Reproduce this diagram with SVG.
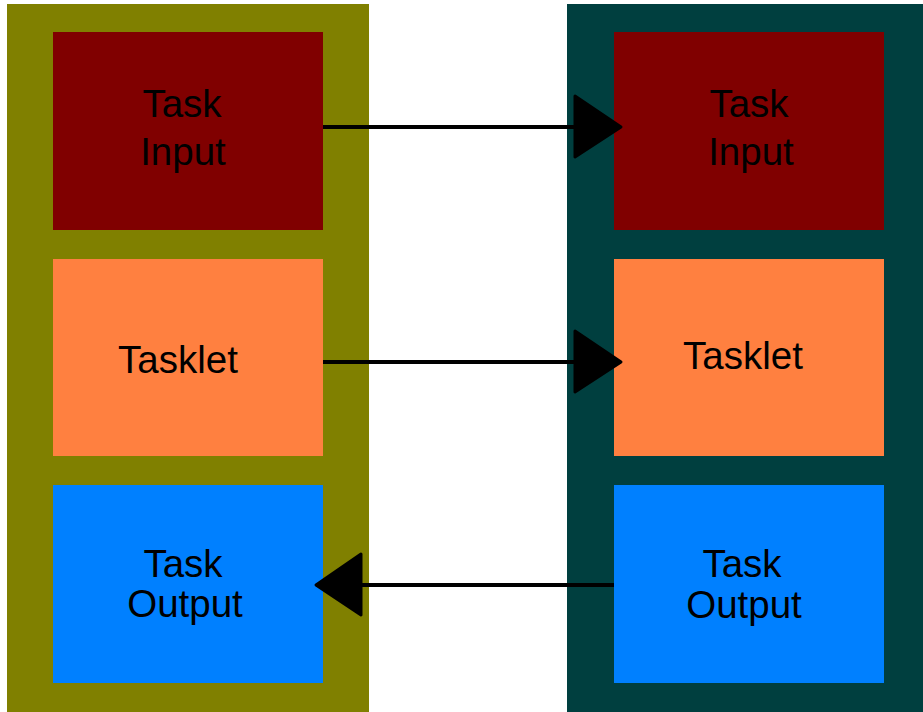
<svg xmlns="http://www.w3.org/2000/svg" width="923" height="712" viewBox="0 0 923 712">
<style>
  text { font-family: "Liberation Sans", Arial, sans-serif; font-size: 38.5px; fill: #000; text-anchor: middle; }
  .conn { stroke: #000; stroke-width: 4; fill: none; }
  .head { fill: #000; stroke: #000; stroke-width: 3; stroke-linejoin: round; }
</style>
<rect width="923" height="712" fill="#ffffff"/>
<g id="left-container"><rect x="7" y="4" width="362" height="712" fill="#808000"/></g>
<g id="right-container"><rect x="567" y="4" width="360" height="712" fill="#003f3f"/></g>
<g id="left-task-input">
  <rect x="53" y="32" width="270" height="198" fill="#800000"/>
  <text x="182" y="117">Task</text>
  <text x="183" y="165">Input</text>
</g>
<g id="left-tasklet">
  <rect x="53" y="259" width="270" height="197" fill="#ff8040"/>
  <text x="178" y="373">Tasklet</text>
</g>
<g id="left-task-output">
  <rect x="53" y="485" width="270" height="198" fill="#0080ff"/>
  <text x="183" y="577">Task</text>
  <text x="185" y="617">Output</text>
</g>
<g id="right-task-input">
  <rect x="614" y="32" width="270" height="198" fill="#800000"/>
  <text x="749" y="117">Task</text>
  <text x="751" y="165">Input</text>
</g>
<g id="right-tasklet">
  <rect x="614" y="259" width="270" height="197" fill="#ff8040"/>
  <text x="743" y="369">Tasklet</text>
</g>
<g id="right-task-output">
  <rect x="614" y="485" width="270" height="198" fill="#0080ff"/>
  <text x="742" y="577">Task</text>
  <text x="744" y="618">Output</text>
</g>
<g id="connectors">
  <line class="conn" x1="323" y1="127" x2="576" y2="127"/>
  <polygon class="head" points="575,96 621,127 575,157"/>
  <line class="conn" x1="323" y1="362" x2="576" y2="362"/>
  <polygon class="head" points="575,331 621,362 575,392"/>
  <line class="conn" x1="614" y1="585" x2="360" y2="585"/>
  <polygon class="head" points="361,554 316,585 361,615"/>
</g>
</svg>
